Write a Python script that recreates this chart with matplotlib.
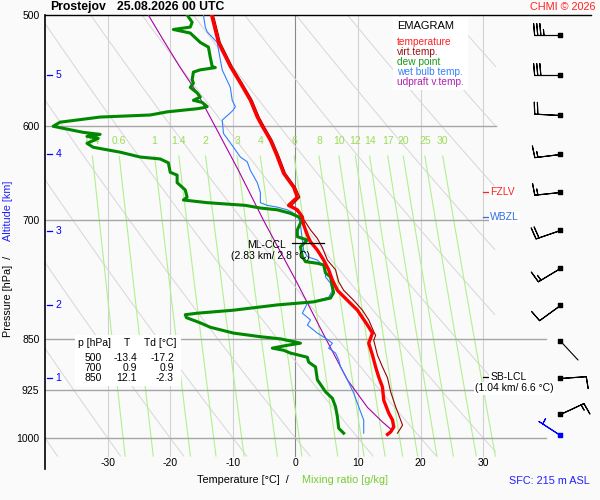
import numpy as np
import matplotlib
matplotlib.use('Agg')
import matplotlib.pyplot as plt
import matplotlib.transforms as mtransforms
from matplotlib.patches import Rectangle

plt.rcParams['font.family'] = ['Liberation Sans', 'DejaVu Sans']

# temperature [hPa, degC]
t_p = [500, 523, 544, 559, 575, 591, 600, 614, 629, 648, 663, 674, 679, 683, 688, 696, 705, 717, 725, 735,
       747, 759, 772, 785, 798, 811, 821, 831, 842, 849, 856, 873, 890, 905, 920, 940, 960, 971, 982, 990, 994]
t_T = [-13.4, -12.3, -10.4, -8.8, -7.2, -6.1, -5.3, -4.0, -3.0, -1.9, -0.3, 0.3, -0.5, -1.1, 0.3, 1.1, 1.3, 1.9, 2.4, 3.5,
       4.5, 5.3, 5.9, 6.7, 8.3, 9.9, 10.7, 11.5, 12.3, 12.0, 11.7, 12.3, 12.8, 13.3, 13.9, 14.1, 14.9, 15.5, 15.7, 15.2, 14.7]

# virtual temperature
tv_p = [500, 523, 544, 559, 575, 591, 600, 614, 629, 648, 663, 674, 679, 683, 692, 702, 711, 721, 732, 747,
        759, 774, 785, 798, 811, 824, 840, 845, 852, 873, 890, 906, 927, 950, 963, 979, 984, 992]
tv_T = [-13.1, -12.0, -10.1, -8.5, -6.9, -5.8, -5.0, -3.7, -2.7, -1.6, 0.0, 0.7, 0.0, -0.6, 0.5, 1.6, 2.4, 3.5, 4.3, 5.1,
        6.4, 6.9, 7.7, 9.3, 10.7, 11.7, 12.5, 12.8, 12.5, 13.1, 13.9, 14.7, 15.2, 16.0, 16.5, 17.1, 16.8, 16.3]

# dew point
td_p = [500, 506, 510, 512, 515, 523, 527, 536, 544, 545, 547, 549, 556, 559, 563, 568, 572, 575, 577, 581,
        582, 583, 586, 589, 591, 596, 600, 602, 606, 608, 610, 612, 617, 621, 626, 631, 633, 637, 647, 650,
        658, 666, 674, 677, 680, 683, 686, 688, 692, 696, 700, 711, 719, 723, 731, 743, 749, 751, 753, 763,
        768, 781, 788, 795, 800, 804, 811, 815, 817, 821, 828, 834, 842, 847, 850, 856, 859, 863, 866, 870,
        876, 883, 890, 909, 927, 937, 950, 966, 984, 992]
td_T = [-17.3, -16.5, -16.8, -19.5, -16.8, -15.2, -13.9, -13.6, -13.3, -12.8, -15.2, -16.3, -16.5, -16.3, -16.8, -15.7,
        -15.2, -16.3, -14.9, -14.1, -14.7, -15.7, -20.5, -23.2, -31.2, -37.6, -38.7, -37.1, -33.9, -31.2, -33.3, -31.5,
        -33.3, -32.3, -28.0, -24.8, -21.6, -20.3, -20.0, -18.9, -18.9, -17.6, -17.3, -17.9, -14.1, -8.0, -5.6, -2.9,
        -0.8, 0.5, 1.0, 0.3, 0.3, 1.9, 0.8, 1.1, 1.6, 3.5, 4.5, 4.8, 5.6, 5.9, 6.1, 5.6, 2.9, -2.9, -9.9, -15.7,
        -17.6, -17.4, -15.2, -13.6, -9.9, -5.6, -2.4, 0.8, -1.3, -3.7, -1.9, -0.8, 1.9, 2.1, 3.2, 3.5, 4.8, 5.9,
        6.4, 6.7, 6.9, 7.7]

# wet bulb temperature
tw_p = [500, 510, 514, 523, 538, 547, 563, 575, 581, 584, 587, 594, 607, 621, 631, 636, 645, 658, 669, 680,
        683, 685, 688, 692, 696, 705, 723, 735, 743, 747, 751, 756, 768, 776, 785, 794, 798, 802, 815, 824,
        831, 842, 849, 856, 863, 870, 880, 890, 909, 929, 950, 971, 992]
tw_T = [-14.7, -14.4, -14.1, -12.5, -12.0, -11.7, -10.4, -10.1, -9.6, -9.9, -10.4, -11.7, -11.5, -9.9, -8.8, -7.7,
        -7.2, -6.1, -5.6, -5.6, -4.5, -2.9, -1.3, -0.3, 0.5, 0.8, 1.1, 1.3, 1.9, 3.5, 4.0, 4.8, 4.8, 5.6, 5.9, 5.3,
        3.5, 1.9, 1.1, 2.4, 1.9, 3.5, 4.8, 5.9, 5.3, 6.4, 6.9, 7.2, 8.3, 9.3, 10.1, 10.9, 10.9]

# updraft virtual temperature
pc_p = [500, 521, 545, 568, 597, 629, 645, 700, 776, 849, 909, 951, 974, 988]
pc_T = [-23.5, -21.1, -18.4, -15.7, -13.1, -10.4, -9.1, -5.1, 0.3, 4.8, 8.3, 11.5, 13.9, 15.5]

# wind
wind_p = [995, 961, 906, 853, 804, 757, 711, 668, 628, 589, 552, 517]
wind_dir = [303, 65, 86, 137, 234, 239, 251, 264, 263, 273, 270, 270]
wind_kt = [5, 15, 10, 2, 10, 15, 20, 15, 15, 20, 30, 35]

alt_km = [1, 2, 3, 4, 5]
alt_p = [906, 804, 712, 628, 552]

p_ticks = [500, 600, 700, 850, 925, 1000]
t_ticks = [-30, -20, -10, 0, 10, 20, 30]
mix_w = [0.4, 0.6, 1, 1.4, 2, 3, 4, 6, 8, 10, 12, 14, 17, 20, 25, 30]

tab_p = [500, 700, 850]
tab_T = [-13.4, 0.9, 12.1]
tab_Td = [-17.2, 0.9, -2.3]

fzlv_p = 668
wbzl_p = 696
lcl_p = 905
ccl_p = 726

BG = '#fafafa'
fig = plt.figure(figsize=(6, 5), dpi=100, facecolor=BG)
ax = fig.add_axes([45/600, 31/500, 546/600, 454/500])
ax.set_facecolor(BG)
ax.set_yscale('log')
ax.set_xlim(-40, 47.2)
ax.set_ylim(1052, 500)
for s in ['right', 'bottom']:
    ax.spines[s].set_visible(False)
ax.spines['left'].set_linewidth(1.2)
ax.spines['top'].set_linewidth(1.0)
ax.yaxis.set_minor_locator(matplotlib.ticker.NullLocator())
ax.set_yticks(p_ticks)
ax.set_yticklabels([str(p) for p in p_ticks])
ax.set_xticks([])
ax.tick_params(axis='y', length=0, pad=4, labelsize=7.5)

# isotherms
for t in t_ticks:
    ax.plot([t, t], [500, 1030], color='#8a8a8a' if t == 0 else '#d2d2d2', lw=0.8, zorder=1)
    ax.text(t, 1042, str(t), ha='center', va='center', fontsize=7.5)

# dry adiabats
pg = np.geomspace(500, 1030, 300)
for th in range(-40, 110, 10):
    tt = (th + 273.15) * (pg / 1000.0) ** 0.286 - 273.15
    tt = np.where(tt <= 32, tt, np.nan)
    ax.plot(tt, pg, color='#d6d6d6', lw=0.7, zorder=1)

# mixing ratio lines
pm = np.geomspace(630, 1030, 100)
for w in mix_w:
    e = w * pm / (622.0 + w)
    a = np.log(e / 6.112)
    td = 243.5 * a / (17.67 - a)
    ax.plot(td, pm, color='#b2f08e', lw=0.8, zorder=1.2)
    ax.text(td[0], 615, f'{w:g}', ha='center', va='center', fontsize=7.5, color='#99dd55', zorder=1.3)

# isobars
for p, t_end in zip(p_ticks[1:], [32, 32, 40, 40, 40]):
    ax.plot([-40, t_end], [p, p], color='#a6a6a6', lw=1.0, zorder=1.5)

# profiles
ax.plot(pc_T, pc_p, color='#aa00aa', lw=0.8, zorder=4)
ax.plot(tw_T, tw_p, color='#2f7fff', lw=0.8, zorder=4)
ax.plot(td_T, td_p, color='#008800', lw=2.2, zorder=5)
ax.plot(tv_T, tv_p, color='#990000', lw=0.8, zorder=5)
ax.plot(t_T, t_p, color='#ff0000', lw=2.4, zorder=6)

# wind barbs
xb = 42.3
d = np.radians(wind_dir)
u = -np.array(wind_kt) * np.sin(d)
v = -np.array(wind_kt) * np.cos(d)
cols = ['#0000ff'] + ['black'] * (len(wind_p) - 1)
for i in range(len(wind_p)):
    if wind_kt[i] >= 5:
        ax.barbs([xb], [wind_p[i]], [u[i]], [v[i]], length=6.1, pivot='tip', color=cols[i],
                 linewidth=0.8, sizes=dict(spacing=0.12, height=0.46, width=0.08, emptybarb=0),
                 clip_on=False, zorder=6)
    else:
        L = 18.7
        ax.annotate('', xy=(xb, wind_p[i]), xytext=(L * np.sin(d[i]), L * np.cos(d[i])),
                    textcoords='offset points', xycoords='data',
                    arrowprops=dict(arrowstyle='-', color=cols[i], lw=0.8, shrinkA=0, shrinkB=0))
    ax.scatter([xb], [wind_p[i]], marker='s', s=5, color=cols[i], zorder=7, clip_on=False)

# altitude scale
bt = mtransforms.blended_transform_factory(ax.transAxes, ax.transData)
for km, p in zip(alt_km, alt_p):
    ax.plot([0.004, 0.013], [p, p], transform=bt, color='#0000ff', lw=0.9)
    ax.text(0.019, p, str(km), transform=bt, color='#0000ff', fontsize=7.5, va='center')

# level labels
box = dict(facecolor='white', edgecolor='none', pad=0.8)
ax.plot([30.0, 30.8], [fzlv_p, fzlv_p], color='#ff2020', lw=0.9, zorder=7)
ax.text(31.1, fzlv_p, 'FZLV', color='#ff2020', fontsize=7.5, va='center', bbox=box, zorder=7)
ax.plot([30.0, 30.8], [wbzl_p, wbzl_p], color='#3070e0', lw=0.9, zorder=7)
ax.text(31.1, wbzl_p, 'WBZL', color='#3070e0', fontsize=7.5, va='center', bbox=box, zorder=7)
ax.plot([30.0, 30.8], [lcl_p, lcl_p], color='black', lw=0.9, zorder=7)
ax.text(31.1, lcl_p, 'SB-LCL', fontsize=7.5, va='center', bbox=box, zorder=7)
ax.text(34.9, 922, '(1.04 km/ 6.6 °C)', fontsize=7.5, va='center', ha='center', bbox=box, zorder=7)
ax.plot([-0.5, 4.5], [ccl_p, ccl_p], color='black', lw=0.9, zorder=7)
ax.text(-4.6, 729, 'ML-CCL', fontsize=7.5, va='center', ha='center', zorder=7)
ax.text(-4.0, 742, '(2.83 km/ 2.8 °C)', fontsize=7.5, va='center', ha='center', zorder=7)


def fx(px):
    return px / 600.0


def fy(py):
    return 1 - py / 500.0


# legend
fig.patches.append(Rectangle((fx(393), fy(90)), 75 / 600, 73 / 500, transform=fig.transFigure,
                             facecolor='white', edgecolor='none', zorder=8))
fig.text(fx(397), fy(26), 'EMAGRAM', fontsize=8, va='center', zorder=9)
leg = [('temperature', '#ff2020'), ('virt.temp.', '#a01010'), ('dew point', '#1a9a1a'),
       ('wet bulb temp.', '#3380ff'), ('udpraft v.temp.', '#b020b0')]
for i, (lab, c) in enumerate(leg):
    fig.text(fx(397), fy(42 + 10 * i), lab, fontsize=7.3, color=c, va='center', zorder=9)

# data table
fig.patches.append(Rectangle((fx(75), fy(386)), 106 / 600, 51 / 500, transform=fig.transFigure,
                             facecolor='white', edgecolor='none', zorder=8))
fig.text(fx(78), fy(343), 'p [hPa]', fontsize=7.5, va='center', zorder=9)
fig.text(fx(127), fy(343), 'T', fontsize=7.5, va='center', ha='center', zorder=9)
fig.text(fx(144), fy(343), 'Td [°C]', fontsize=7.5, va='center', zorder=9)
for i in range(len(tab_p)):
    yy = fy(358 + 10 * i)
    fig.text(fx(102), yy, str(tab_p[i]), fontsize=7.5, va='center', ha='right', zorder=9)
    fig.text(fx(137), yy, f'{tab_T[i]:.1f}', fontsize=7.5, va='center', ha='right', zorder=9)
    fig.text(fx(174), yy, f'{tab_Td[i]:.1f}', fontsize=7.5, va='center', ha='right', zorder=9)

# titles and axis labels
fig.text(fx(50), fy(7), 'Prostejov', fontsize=8.8, fontweight='bold', va='center')
fig.text(fx(117), fy(7), '25.08.2026 00 UTC', fontsize=8.8, fontweight='bold', va='center')
fig.text(fx(596), fy(7), 'CHMI © 2026', fontsize=7.8, color='#ff2020', ha='right', va='center')
fig.text(fx(197), fy(480), 'Temperature [°C]  /', fontsize=7.8, va='center')
fig.text(fx(302), fy(480), 'Mixing ratio [g/kg]', fontsize=7.8, va='center', color='#77cc33')
fig.text(fx(590), fy(481), 'SFC: 215 m ASL', fontsize=7.8, va='center', ha='right', color='#2020ff')
fig.text(fx(8), fy(296), 'Pressure [hPa]  /', fontsize=7.8, rotation=90, va='center', ha='center')
fig.text(fx(8), fy(211), 'Altitude [km]', fontsize=7.8, rotation=90, va='center', ha='center', color='#2020ff')

fig.savefig('out.png', dpi=100, facecolor=BG)
